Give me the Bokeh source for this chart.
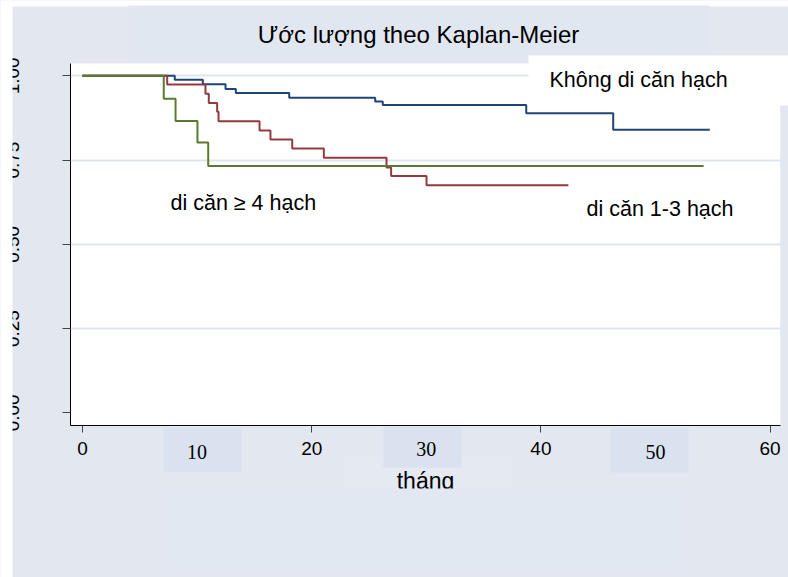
from bokeh.plotting import figure
from bokeh.models import BoxAnnotation, Label, LinearAxis, FixedTicker, Range1d, PrintfTickFormatter
from bokeh.embed import file_html
from bokeh.resources import INLINE

# ---------------- data ----------------
title_text = "Ước lượng theo Kaplan-Meier"
x_label = "tháng"
x_ticks_sans = [0, 20, 40, 60]
x_ticks_serif_a = [10, 50]
x_ticks_serif_b = [30]
y_ticks = [0.0, 0.25, 0.5, 0.75, 1.0]
y_grid = [0.25, 0.5, 0.75, 1.0]

grp_none = "Không di căn hạch"
t_none = [0, 8.05, 10.50, 12.48, 13.38, 18.04, 25.54, 26.20, 38.72, 46.31, 54.74]
s_none = [1.0, 0.988, 0.975, 0.961, 0.949, 0.935, 0.924, 0.913, 0.889, 0.840, 0.840]

grp_13 = "di căn 1-3 hạch"
t_13 = [0, 7.39, 10.73, 11.02, 11.75, 11.87, 15.45, 16.40, 18.30, 21.06, 26.53, 26.93, 30.02, 42.4]
s_13 = [1.0, 0.974, 0.947, 0.919, 0.893, 0.865, 0.838, 0.811, 0.784, 0.757, 0.728, 0.703, 0.675, 0.675]

grp_4 = "di căn ≥ 4 hạch"
t_4 = [0, 7.09, 8.12, 10.03, 10.97, 54.2]
s_4 = [1.0, 0.932, 0.866, 0.802, 0.732, 0.732]

# ---------------- style ----------------
BG = "#e2e7f0"
W, H = 788, 577
SANS = "Liberation Sans"
SERIF = "Liberation Serif"

# pixel <-> data helpers (t=0 at px 82, 11.46 px per month; S=1 at px 75.3, 337 px per unit)
def dx(px):
    return (px - 82.0) / 11.46

def dy(py):
    return 1.0 - (py - 75.3) / 337.0

X_LEFT, X_RIGHT = dx(70), dx(780)     # plot region
Y_BOTTOM, Y_TOP = dy(425), dy(63)

p = figure(width=W, height=H, output_backend="svg", toolbar_location=None,
           x_range=Range1d(dx(0), dx(W)), y_range=Range1d(dy(H), dy(0)),
           min_border_left=0, min_border_right=0, min_border_top=0, min_border_bottom=0,
           border_fill_color=BG, background_fill_color=BG, outline_line_color=None)
p.title.visible = False

def box(x0, y0, x1, y1, color, level):
    b = BoxAnnotation(left=dx(x0), right=dx(x1), top=dy(y0), bottom=dy(y1),
                      fill_color=color, fill_alpha=1.0, line_color=None, level=level)
    p.add_layout(b)
    return b

# base layers
box(0, 0, W, 6, "white", "image")                  # top white band
box(128, 5, 709, 63, "#e1e7f1", "image")           # title box
box(70, 63, 780, 425, "white", "image")            # plot area

# grid
p.xgrid.visible = False
p.ygrid.ticker = FixedTicker(ticks=y_grid)
p.ygrid.grid_line_color = "#dfe5ee"
p.ygrid.grid_line_width = 2

# boxes drawn over the grid, under the axes
box(12, 55, 70, 430, BG, "underlay")
box(780, 55, W, 430, BG, "underlay")
box(528, 55, W, 105, "white", "underlay")          # legend box
box(343, 456, 512, 487, "#e4e9f2", "underlay")     # box behind axis title
box(163, 427, 241, 471, "#d9e2ee", "underlay")     # tick box 10
box(383, 426, 461, 467, "#d9e2ee", "underlay")     # tick box 30
box(610, 427, 688, 472, "#d9e2ee", "underlay")     # tick box 50

# y axis
ya = p.yaxis[0]
ya.fixed_location = X_LEFT
ya.bounds = (Y_BOTTOM, Y_TOP)
ya.ticker = FixedTicker(ticks=y_ticks)
ya.formatter = PrintfTickFormatter(format="%.2f")
ya.major_tick_out = 8
ya.major_tick_in = 0
ya.minor_tick_line_color = None
ya.major_tick_line_color = "#444444"
ya.axis_line_color = "black"
ya.major_label_orientation = "vertical"
ya.major_label_text_font = SANS
ya.major_label_text_font_size = "19px"
ya.major_label_text_color = "black"
ya.major_label_standoff = 43

# x axis (sans labels)
xa = p.xaxis[0]
xa.fixed_location = Y_BOTTOM
xa.bounds = (X_LEFT, X_RIGHT)
xa.ticker = FixedTicker(ticks=x_ticks_sans)
xa.major_tick_out = 7
xa.major_tick_in = 0
xa.minor_tick_line_color = None
xa.major_tick_line_color = "#444444"
xa.axis_line_color = "black"
xa.major_label_text_font = SANS
xa.major_label_text_font_size = "19px"
xa.major_label_text_color = "black"
xa.major_label_standoff = 9
xa.axis_label = x_label
xa.axis_label_text_font = SANS
xa.axis_label_text_font_size = "23px"
xa.axis_label_text_font_style = "normal"
xa.axis_label_text_color = "black"
xa.axis_label_standoff = 10

# serif tick labels 10, 30, 50
for ticks, standoff in ((x_ticks_serif_a, 19), (x_ticks_serif_b, 16)):
    ax = LinearAxis(ticker=FixedTicker(ticks=ticks), fixed_location=Y_BOTTOM,
                    bounds=(X_LEFT, X_RIGHT))
    ax.axis_line_color = None
    ax.major_tick_line_color = None
    ax.minor_tick_line_color = None
    ax.major_tick_out = 0
    ax.major_tick_in = 0
    ax.major_label_text_font = SERIF
    ax.major_label_text_font_size = "20px"
    ax.major_label_text_color = "black"
    ax.major_label_standoff = standoff
    p.add_layout(ax, "below")

# curves
p.step(t_none, s_none, mode="after", line_color="#1f4478", line_width=2)
p.step(t_13, s_13, mode="after", line_color="#943a3f", line_width=2)
p.step(t_4, s_4, mode="after", line_color="#5a7a30", line_width=2)

# texts
p.add_layout(Label(x=dx(418), y=dy(34), text=title_text, text_align="center",
                   text_baseline="middle", text_font=SANS, text_font_size="24px",
                   text_color="black"))
p.add_layout(Label(x=dx(549), y=dy(79), text=grp_none, text_align="left", text_baseline="middle",
                   text_font=SANS, text_font_size="21.5px", text_color="black"))
p.add_layout(Label(x=dx(170), y=dy(202), text=grp_4, text_align="left", text_baseline="middle",
                   text_font=SANS, text_font_size="21.5px", text_color="black"))
p.add_layout(Label(x=dx(586), y=dy(208), text=grp_13, text_align="left", text_baseline="middle",
                   text_font=SANS, text_font_size="21.5px", text_color="black"))

# overlays that hide parts of texts
box(163, 488, 681, 568, "#e2e8f2", "overlay")      # lower box
box(0, 0, 12, H, "white", "overlay")               # left white strip

open("out.html", "w").write(file_html(p, INLINE))
